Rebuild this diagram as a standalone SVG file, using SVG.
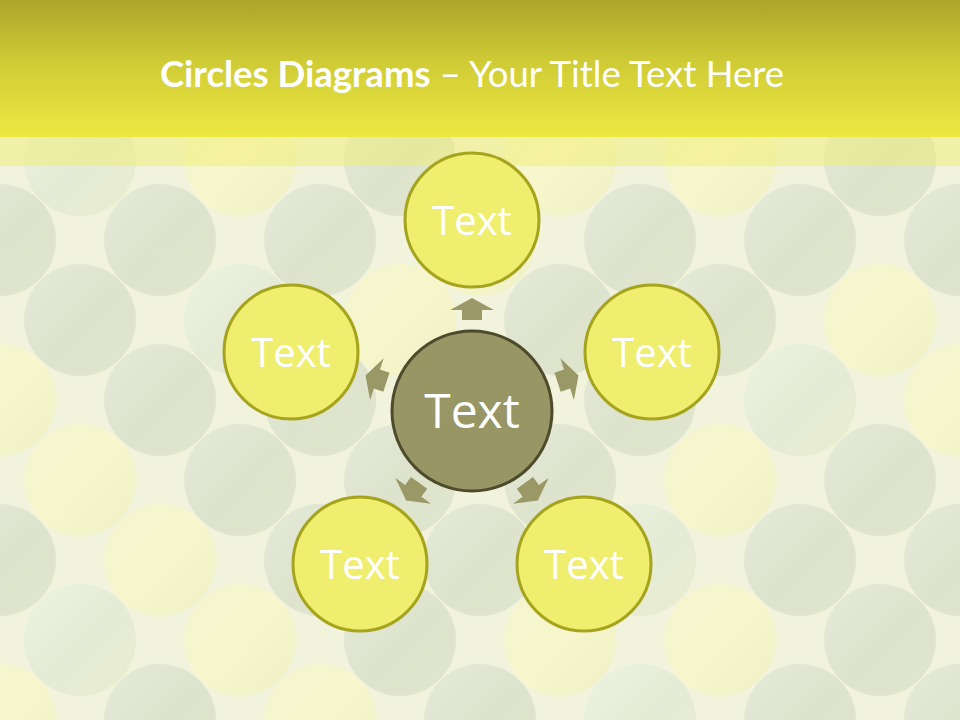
<svg xmlns="http://www.w3.org/2000/svg" width="960" height="720" viewBox="0 0 960 720">
<defs>
<linearGradient id="title" x1="0" y1="0" x2="0" y2="1">
<stop offset="0" stop-color="#aca52a"/>
<stop offset="0.45" stop-color="#cfcb35"/>
<stop offset="1" stop-color="#ede942"/>
</linearGradient>
<linearGradient id="g1" x1="0" y1="0" x2="1" y2="1">
<stop offset="0" stop-color="#e6ebd8"/>
<stop offset="0.5" stop-color="#dde3cd"/>
<stop offset="1" stop-color="#e1e6cc"/>
</linearGradient>
<linearGradient id="g2" x1="0" y1="0" x2="1" y2="1">
<stop offset="0" stop-color="#f3f5cf"/>
<stop offset="0.5" stop-color="#f7f6cc"/>
<stop offset="1" stop-color="#eef0c6"/>
</linearGradient>
<linearGradient id="g3" x1="0" y1="0" x2="1" y2="1">
<stop offset="0" stop-color="#ecf3e0"/>
<stop offset="0.5" stop-color="#e5ebd5"/>
<stop offset="1" stop-color="#eaedd0"/>
</linearGradient>
<path id="arr" d="M90,-10 L100,-10 L100,-22 L112,0 L100,22 L100,10 L90,10 Z"/>
</defs>
<style>
.bg1{fill:url(#g1)}
.bg2{fill:url(#g2)}
.bg3{fill:url(#g3)}
.outer{fill:#efee6e;stroke:#a6a31c;stroke-width:3}
.center{fill:#979664;stroke:#4e4b2c;stroke-width:3}
.lbl{font-family:"Open Sans","DejaVu Sans",sans-serif;fill:#ffffff;text-anchor:middle}
.arrow{fill:#9a9866}
</style>
<rect x="0" y="0" width="960" height="720" fill="#f1f3dc"/>
<g id="background">
<circle cx="80" cy="0" r="56" class="bg2"/><circle cx="240" cy="0" r="56" class="bg1"/><circle cx="400" cy="0" r="56" class="bg2"/><circle cx="560" cy="0" r="56" class="bg1"/><circle cx="720" cy="0" r="56" class="bg2"/><circle cx="880" cy="0" r="56" class="bg1"/>
<circle cx="0" cy="80" r="56" class="bg1"/><circle cx="160" cy="80" r="56" class="bg2"/><circle cx="320" cy="80" r="56" class="bg1"/><circle cx="480" cy="80" r="56" class="bg2"/><circle cx="640" cy="80" r="56" class="bg1"/><circle cx="800" cy="80" r="56" class="bg2"/><circle cx="960" cy="80" r="56" class="bg1"/>
<circle cx="80" cy="160" r="56" class="bg3"/><circle cx="240" cy="160" r="56" class="bg2"/><circle cx="400" cy="160" r="56" class="bg1"/><circle cx="560" cy="160" r="56" class="bg2"/><circle cx="720" cy="160" r="56" class="bg2"/><circle cx="880" cy="160" r="56" class="bg1"/>
<circle cx="0" cy="240" r="56" class="bg1"/><circle cx="160" cy="240" r="56" class="bg1"/><circle cx="320" cy="240" r="56" class="bg1"/><circle cx="480" cy="240" r="56" class="bg2"/><circle cx="640" cy="240" r="56" class="bg1"/><circle cx="800" cy="240" r="56" class="bg1"/><circle cx="960" cy="240" r="56" class="bg1"/>
<circle cx="80" cy="320" r="56" class="bg1"/><circle cx="240" cy="320" r="56" class="bg3"/><circle cx="400" cy="320" r="56" class="bg2"/><circle cx="560" cy="320" r="56" class="bg1"/><circle cx="720" cy="320" r="56" class="bg1"/><circle cx="880" cy="320" r="56" class="bg2"/>
<circle cx="0" cy="400" r="56" class="bg2"/><circle cx="160" cy="400" r="56" class="bg1"/><circle cx="320" cy="400" r="56" class="bg1"/><circle cx="480" cy="400" r="56" class="bg3"/><circle cx="640" cy="400" r="56" class="bg1"/><circle cx="800" cy="400" r="56" class="bg3"/><circle cx="960" cy="400" r="56" class="bg2"/>
<circle cx="80" cy="480" r="56" class="bg2"/><circle cx="240" cy="480" r="56" class="bg1"/><circle cx="400" cy="480" r="56" class="bg1"/><circle cx="560" cy="480" r="56" class="bg1"/><circle cx="720" cy="480" r="56" class="bg2"/><circle cx="880" cy="480" r="56" class="bg1"/>
<circle cx="0" cy="560" r="56" class="bg1"/><circle cx="160" cy="560" r="56" class="bg2"/><circle cx="320" cy="560" r="56" class="bg1"/><circle cx="480" cy="560" r="56" class="bg1"/><circle cx="640" cy="560" r="56" class="bg3"/><circle cx="800" cy="560" r="56" class="bg1"/><circle cx="960" cy="560" r="56" class="bg1"/>
<circle cx="80" cy="640" r="56" class="bg3"/><circle cx="240" cy="640" r="56" class="bg2"/><circle cx="400" cy="640" r="56" class="bg1"/><circle cx="560" cy="640" r="56" class="bg2"/><circle cx="720" cy="640" r="56" class="bg2"/><circle cx="880" cy="640" r="56" class="bg1"/>
<circle cx="0" cy="720" r="56" class="bg2"/><circle cx="160" cy="720" r="56" class="bg1"/><circle cx="320" cy="720" r="56" class="bg2"/><circle cx="480" cy="720" r="56" class="bg1"/><circle cx="640" cy="720" r="56" class="bg3"/><circle cx="800" cy="720" r="56" class="bg1"/><circle cx="960" cy="720" r="56" class="bg1"/>
</g>
<rect x="0" y="137" width="960" height="29" fill="#f0ee70" opacity="0.5"/>
<rect x="0" y="0" width="960" height="137" fill="url(#title)"/>
<text x="472" y="87" font-family="Lato,'Open Sans',sans-serif" font-size="36.5" fill="#ffffff" text-anchor="middle"><tspan font-weight="bold">Circles Diagrams</tspan> – Your Title Text Here</text>
<g id="connectors">
<use href="#arr" class="arrow" transform="translate(472,410) rotate(-90)"/>
<use href="#arr" class="arrow" transform="translate(472,410) rotate(-18)"/>
<use href="#arr" class="arrow" transform="translate(472,410) rotate(-162)"/>
<use href="#arr" class="arrow" transform="translate(472,410) rotate(126)"/>
<use href="#arr" class="arrow" transform="translate(472,410) rotate(54)"/>
</g>
<g id="node-center">
<circle cx="472" cy="411" r="80" class="center"/>
<text x="472" y="428" class="lbl" font-size="48">Text</text>
</g>
<g id="node-top">
<circle cx="472" cy="220" r="67" class="outer"/>
<text x="472" y="235" class="lbl" font-size="40">Text</text>
</g>
<g id="node-right">
<circle cx="652" cy="352" r="67" class="outer"/>
<text x="652" y="367" class="lbl" font-size="40">Text</text>
</g>
<g id="node-left">
<circle cx="291" cy="352" r="67" class="outer"/>
<text x="291" y="367" class="lbl" font-size="40">Text</text>
</g>
<g id="node-bottom-left">
<circle cx="360" cy="564" r="67" class="outer"/>
<text x="360" y="579" class="lbl" font-size="40">Text</text>
</g>
<g id="node-bottom-right">
<circle cx="584" cy="564" r="67" class="outer"/>
<text x="584" y="579" class="lbl" font-size="40">Text</text>
</g>
</svg>
